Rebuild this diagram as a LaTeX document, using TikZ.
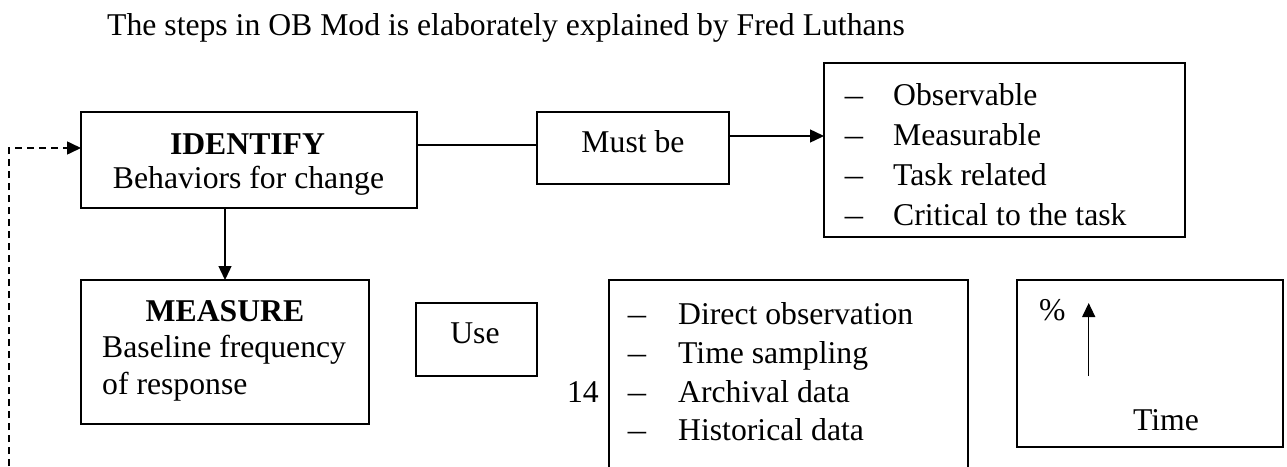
\documentclass[tikz,border=0pt]{standalone}
\usepackage{fontspec}
\setmainfont{Liberation Serif}
\usepackage{graphicx}
\usetikzlibrary{arrows.meta}
\newcommand{\bdash}{\scalebox{1.15}[1]{–}}
\begin{document}
\begin{tikzpicture}[x=1pt,y=-1pt,
  font=\fontsize{31.7}{38}\selectfont,
  boxn/.style={draw, line width=1.6pt, rectangle, inner sep=0pt, outer sep=0pt},
  txtw/.style={inner sep=0pt, anchor=base west},
  txtc/.style={inner sep=0pt, anchor=base},
  txte/.style={inner sep=0pt, anchor=base east},
  conn/.style={line width=1.4pt},
  arr/.style={line width=1.4pt, -{Triangle[length=14pt,width=13pt]}},
  darr/.style={line width=1.6pt, dash pattern=on 7pt off 5pt, -{Triangle[length=14pt,width=13pt]}}]
\fill[white] (0,0) rectangle (1287,466);
\clip (0,0) rectangle (1287,466);

% title
\node[txtw] (title) at (107,35) {The steps in OB Mod is elaborately explained by Fred Luthans};

% boxes
\node[boxn, minimum width=336pt, minimum height=96pt] (id) at (249,160) {};
\node[boxn, minimum width=288pt, minimum height=144pt] (me) at (225,352) {};
\node[boxn, minimum width=121pt, minimum height=73pt] (use) at (476.5,339.5) {};
\node[boxn, minimum width=192pt, minimum height=72pt] (mb) at (633,148) {};
\node[boxn, minimum width=361pt, minimum height=174pt] (l1) at (1004.5,150) {};
\node[boxn, minimum width=359pt, minimum height=220pt] (l2) at (788.5,390) {};
\node[boxn, minimum width=266pt, minimum height=167pt] (gr) at (1150,363.5) {};

% texts
\node[txtc] (idt1) at (247.5,154) {\textbf{IDENTIFY}};
\node[txtc] (idt2) at (248.5,188) {Behaviors for change};
\node[txtc] (met1) at (225,321) {\textbf{MEASURE}};
\node[txtw] (met2) at (102,357) {Baseline frequency};
\node[txtw] (met3) at (102,394) {of response};
\node[txtc] (uset) at (475,343) {Use};
\node[txtc] (mbt) at (633,152.7) {Must be};

\node[txtc] (d11) at (854,105) {\bdash};
\node[txtw] (t11) at (893,105) {Observable};
\node[txtc] (d12) at (854,145) {\bdash};
\node[txtw] (t12) at (893,145) {Measurable};
\node[txtc] (d13) at (854,185) {\bdash};
\node[txtw] (t13) at (893,185) {Task related};
\node[txtc] (d14) at (854,225) {\bdash};
\node[txtw] (t14) at (893,225) {Critical to the task};

\node[txtc] (d21) at (637,324) {\bdash};
\node[txtw] (t21) at (678,324) {Direct observation};
\node[txtc] (d22) at (637,363) {\bdash};
\node[txtw] (t22) at (678,363) {Time sampling};
\node[txtc] (d23) at (637,402) {\bdash};
\node[txtw] (t23) at (678,402) {Archival data};
\node[txtc] (d24) at (637,440) {\bdash};
\node[txtw] (t24) at (678,440) {Historical data};

\node[txte] (pg) at (599,402) {14};

\node[txtw] (pct) at (1039,320) {\%};
\node[txtc] (time) at (1166,430) {Time};
\coordinate (ga) at (1088.7,376);
\coordinate (gb) at (1088.7,303);

% connectors
\draw[conn] ([yshift=15pt]id.east) -- ([yshift=15pt]id.east -| mb.west);
\draw[arr] ([yshift=12pt]mb.east) -- ([yshift=12pt]mb.east -| l1.west);
\draw[arr] (id.south -| me.north) -- (me.north);
\coordinate (fb) at (9,490);
\draw[darr] (fb) |- ([yshift=12pt]id.west);
\draw[arr] (ga) -- (gb);
\end{tikzpicture}
\end{document}
